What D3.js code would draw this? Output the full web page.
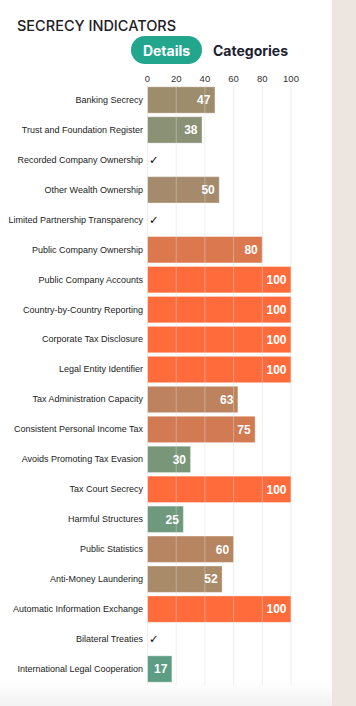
<!DOCTYPE html>
<html>
<head>
<meta charset="utf-8">
<script src="https://cdn.jsdelivr.net/npm/d3@7"></script>
<style>
  html, body { margin: 0; padding: 0; background: #fff; }
  svg { display: block; }
</style>
</head>
<body>
<svg id="chart" width="356" height="706"></svg>
<script>
const categories = [
  "Banking Secrecy",
  "Trust and Foundation Register",
  "Recorded Company Ownership",
  "Other Wealth Ownership",
  "Limited Partnership Transparency",
  "Public Company Ownership",
  "Public Company Accounts",
  "Country-by-Country Reporting",
  "Corporate Tax Disclosure",
  "Legal Entity Identifier",
  "Tax Administration Capacity",
  "Consistent Personal Income Tax",
  "Avoids Promoting Tax Evasion",
  "Tax Court Secrecy",
  "Harmful Structures",
  "Public Statistics",
  "Anti-Money Laundering",
  "Automatic Information Exchange",
  "Bilateral Treaties",
  "International Legal Cooperation"
];
// null = indicator fulfilled (shown with a check mark)
const values = [47, 38, null, 50, null, 80, 100, 100, 100, 100, 63, 75, 30, 100, 25, 60, 52, 100, null, 17];
const tickValues = [0, 20, 40, 60, 80, 100];
const title = "SECRECY INDICATORS";
const tabs = ["Details", "Categories"];

const data = categories.map((c, i) => ({ name: c, value: values[i] }));

const svg = d3.select("#chart");

// backgrounds
const bgGrad = svg.append("defs").append("linearGradient")
  .attr("id", "bottomFade").attr("x1", 0).attr("y1", 0).attr("x2", 0).attr("y2", 1);
bgGrad.append("stop").attr("offset", "0%").attr("stop-color", "#ffffff");
bgGrad.append("stop").attr("offset", "100%").attr("stop-color", "#f3f3f3");

svg.append("rect").attr("x", 0).attr("y", 0).attr("width", 332).attr("height", 706).attr("fill", "#ffffff");
svg.append("rect").attr("x", 0).attr("y", 682).attr("width", 332).attr("height", 24).attr("fill", "url(#bottomFade)");
svg.append("rect").attr("x", 332).attr("y", 0).attr("width", 24).attr("height", 706).attr("fill", "#ede5df");

// title
svg.append("text")
  .attr("x", 17).attr("y", 31)
  .attr("font-family", "Inter, 'Noto Sans', sans-serif")
  .attr("font-size", 14.5).attr("font-weight", 500)
  .attr("fill", "#1f2026")
  .text(title);

// tabs
svg.append("rect").attr("x", 131).attr("y", 36).attr("width", 71).attr("height", 28).attr("rx", 14)
  .attr("fill", "#22a78e");
svg.append("text").attr("x", 166.5).attr("y", 55.5).attr("text-anchor", "middle")
  .attr("font-family", "Inter, 'Noto Sans', sans-serif").attr("font-size", 14).attr("font-weight", 700)
  .attr("fill", "#ffffff").text(tabs[0]);
svg.append("text").attr("x", 213).attr("y", 55.5)
  .attr("font-family", "Inter, 'Noto Sans', sans-serif").attr("font-size", 14).attr("font-weight", 700)
  .attr("fill", "#1e2230").text(tabs[1]);

// scales
const x = d3.scaleLinear().domain([0, 100]).range([147, 290.5]);
const y = d3.scaleBand().domain(categories).range([85, 684]).paddingInner(0.12).paddingOuter(0.06);
const color = d3.scaleLinear().domain([0, 50, 100]).range(["#38a68f", "#a58b6b", "#ff6b3a"]);

// tick labels (top axis)
const axis = svg.append("g").attr("transform", "translate(0,82)")
  .call(d3.axisTop(x).tickValues(tickValues).tickSize(0).tickPadding(0));
axis.select(".domain").remove();
axis.selectAll("text")
  .attr("font-family", "'Liberation Sans', Arial, sans-serif")
  .attr("font-size", 9.5).attr("fill", "#333");

// category labels
const yAxis = svg.append("g").attr("transform", "translate(147,0)")
  .call(d3.axisLeft(y).tickSize(0).tickPadding(4));
yAxis.select(".domain").remove();
yAxis.selectAll("text")
  .attr("font-family", "'Liberation Sans', Arial, sans-serif")
  .attr("font-size", 9).attr("fill", "#222");

// bars
const bars = data.filter(d => d.value !== null);
svg.append("g").selectAll("rect").data(bars).join("rect")
  .attr("x", x(0) + 0.5)
  .attr("y", d => y(d.name))
  .attr("width", d => x(d.value) - x(0))
  .attr("height", y.bandwidth())
  .attr("fill", d => color(d.value))
  .attr("stroke", "rgba(255,255,255,0.35)")
  .attr("stroke-width", 1);

// grid lines (drawn over bars, translucent)
svg.append("g").selectAll("line").data(tickValues).join("line")
  .attr("x1", d => x(d) + 0.5).attr("x2", d => x(d) + 0.5)
  .attr("y1", 85).attr("y2", 685)
  .attr("stroke", "#dcdcdc").attr("stroke-opacity", 0.45).attr("stroke-width", 1);

// value labels
svg.append("g").selectAll("text").data(bars).join("text")
  .attr("x", d => x(d.value) - 4)
  .attr("y", d => y(d.name) + y.bandwidth() / 2)
  .attr("dy", "0.36em")
  .attr("text-anchor", "end")
  .attr("font-family", "'Liberation Sans', Arial, sans-serif")
  .attr("font-size", 12).attr("font-weight", 700)
  .attr("fill", "#ffffff")
  .text(d => d.value);

// check marks
svg.append("g").selectAll("text").data(data.filter(d => d.value === null)).join("text")
  .attr("x", x(0) + 2)
  .attr("y", d => y(d.name) + y.bandwidth() / 2)
  .attr("dy", "0.36em")
  .attr("font-family", "'DejaVu Sans', sans-serif")
  .attr("font-size", 11.5).attr("font-weight", 700).attr("fill", "#111")
  .text("\u2713");
</script>
</body>
</html>
